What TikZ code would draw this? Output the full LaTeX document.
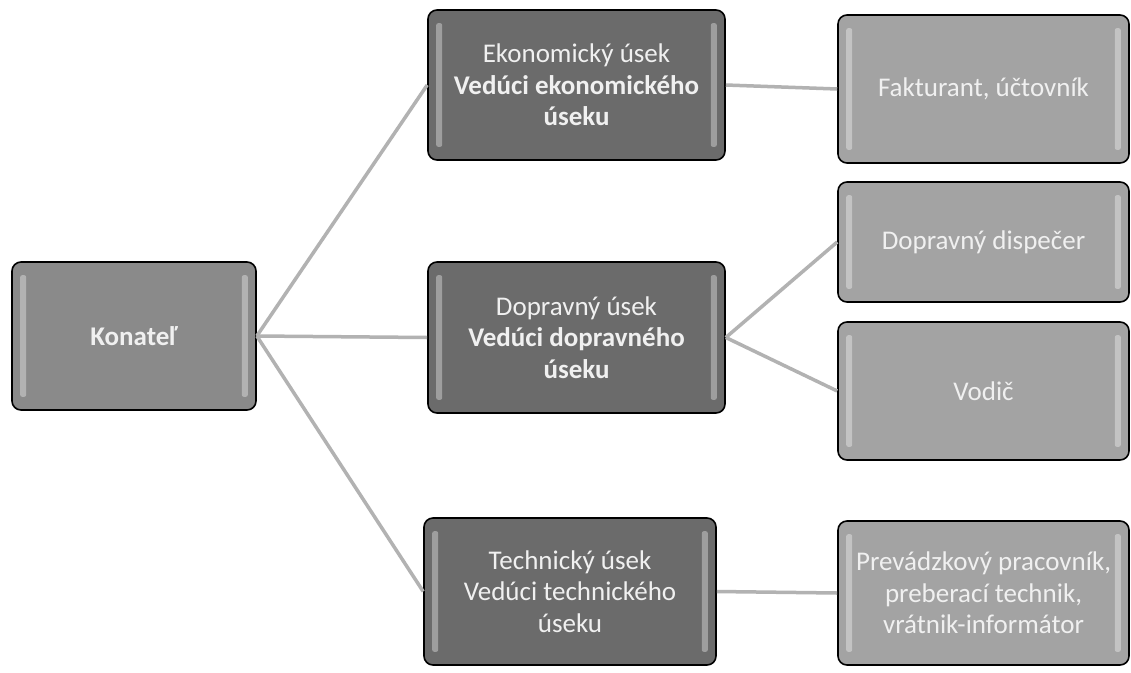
\documentclass[tikz,border=0pt]{standalone}
\usepackage{fontspec}
\setmainfont{Carlito}
\usetikzlibrary{calc}
\tikzset{
  box/.style={draw=black, line width=1.6pt, rounded corners=9pt, text=white!94!black,
    align=center, inner sep=2pt, font=\fontsize{27}{31.5}\selectfont},
  topbox/.style={box, fill=black!46},
  midbox/.style={box, fill=black!58},
  subbox/.style={box, fill=black!36},
  link/.style={draw=black!30, line width=3.5pt},
}
\begin{document}
\begin{tikzpicture}[x=1pt,y=-1pt]
\useasboundingbox (0,0) rectangle (1131,672);
\fill[white] (0,0) rectangle (1131,672);
\node[topbox, minimum width=244pt, minimum height=148pt] (kon) at (134,336) {\bfseries Konateľ};
\node[midbox, minimum width=297pt, minimum height=150pt] (eko) at (576.5,85) {Ekonomický úsek\\\bfseries Vedúci ekonomického\\\bfseries úseku};
\node[midbox, minimum width=297pt, minimum height=151pt] (dop) at (576.5,337.5) {Dopravný úsek\\\bfseries Vedúci dopravného\\\bfseries úseku};
\node[midbox, minimum width=292pt, minimum height=147pt] (tec) at (570,591.5) {Technický úsek\\Vedúci technického\\úseku};
\node[subbox, minimum width=291pt, minimum height=148pt] (fak) at (983.5,89) {Fakturant, účtovník};
\node[subbox, minimum width=291pt, minimum height=120pt] (dis) at (983.5,242) {Dopravný dispečer};
\node[subbox, minimum width=291pt, minimum height=138pt] (vod) at (983.5,391) {Vodič};
\node[subbox, minimum width=291pt, minimum height=144pt, inner sep=0pt] (pre) at (983.5,593) {Prevádzkový pracovník,\\preberací technik,\\vrátnik-informátor};
\draw[link] (kon.east) -- (eko.west);
\draw[link] (kon.east) -- (dop.west);
\draw[link] (kon.east) -- (tec.west);
\draw[link] (eko.east) -- (fak.west);
\draw[link] (dop.east) -- (dis.west);
\draw[link] (dop.east) -- (vod.west);
\draw[link] (tec.east) -- (pre.west);
% glossy highlight bars
\foreach \n in {kon,eko,dop,tec,fak,dis,vod,pre}{
  \fill[white, opacity=0.35, rounded corners=2pt]
    ($(\n.north west)+(9,14)$) rectangle ($(\n.south west)+(15,-14)$);
  \fill[white, opacity=0.35, rounded corners=2pt]
    ($(\n.north east)+(-15,14)$) rectangle ($(\n.south east)+(-9,-14)$);
}
\end{tikzpicture}
\end{document}
